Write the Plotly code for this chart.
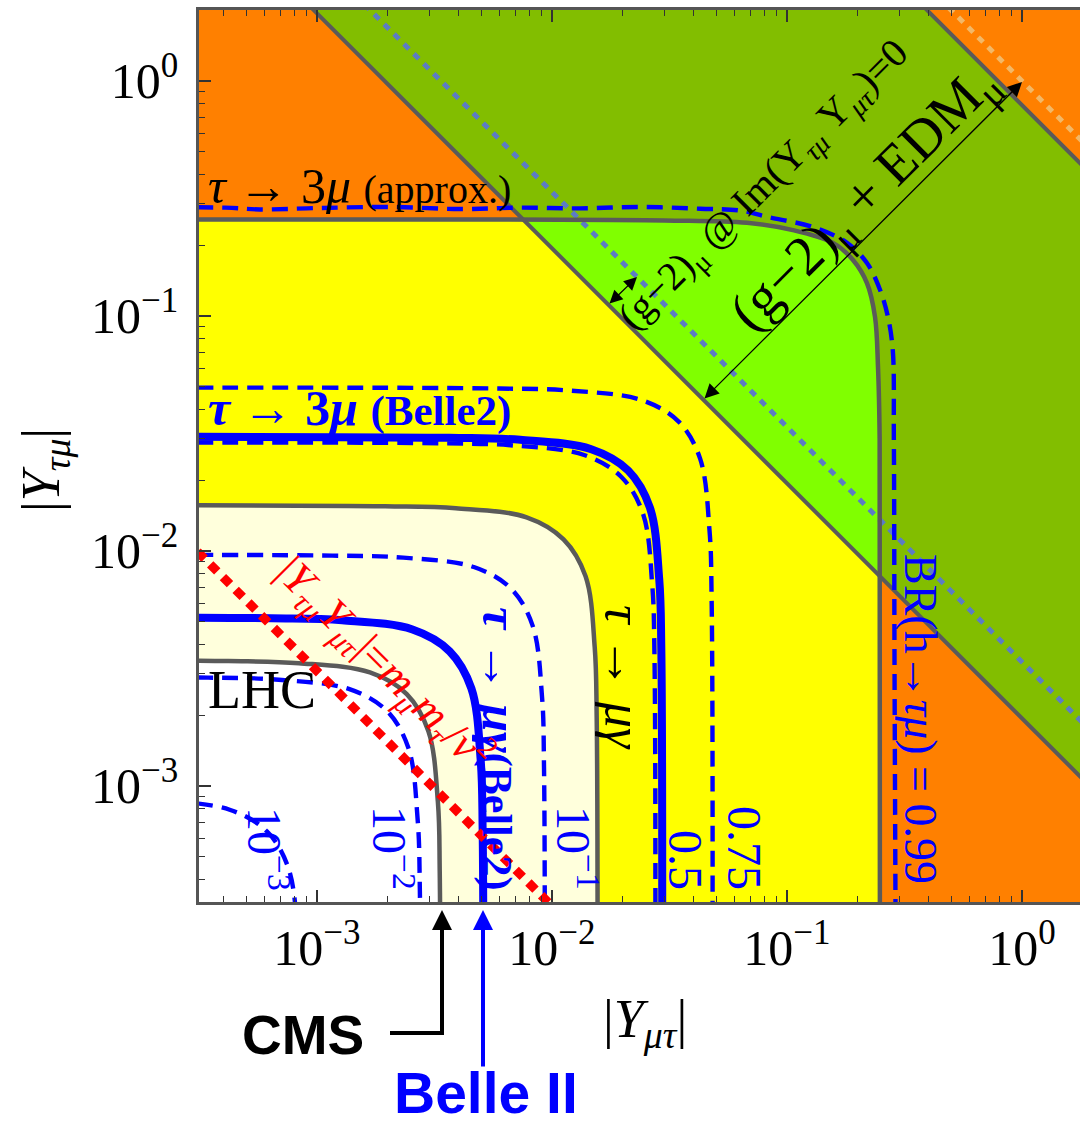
import plotly.graph_objects as go

SERIF = "Liberation Serif"
SANS = "Liberation Sans"

# ---------------------------------------------------------------
# Axis ranges (log10) and ticks
# ---------------------------------------------------------------
X_LOG_RANGE = [-3.502, 0.247]
Y_LOG_RANGE = [-3.494, 0.302]
TICK_VALS = [1e-3, 1e-2, 1e-1, 1.0]
TICK_TEXT = ["10<sup>−3</sup>", "10<sup>−2</sup>", "10<sup>−1</sup>", "10<sup>0</sup>"]
MINOR_VALS = [m * d for d in (1e-4, 1e-3, 1e-2, 1e-1, 1.0) for m in range(2, 10)]

# ---------------------------------------------------------------
# Lines of constant |Y_tau-mu * Y_mu-tau|
# ---------------------------------------------------------------
GM2_EDM_LOW = 1.94e-3     # (g-2)_mu + EDM_mu band, lower edge
GM2_EDM_HIGH = 0.79       # (g-2)_mu + EDM_mu band, upper edge
GM2_IM0_LOW = 3.37e-3     # (g-2)_mu @ Im(Y Y)=0, lower edge
GM2_IM0_HIGH = 1.0        # (g-2)_mu @ Im(Y Y)=0, upper edge
NATURALNESS = 3.08e-6     # m_mu m_tau / v^2

# ---------------------------------------------------------------
# Bounds from tau -> 3mu (approx.) and BR(h -> tau mu)
# ---------------------------------------------------------------
TAU3MU_APPROX = 0.255
H_TAUMU_LIMIT = 0.249
outer_x = [1e-5, 0.03, 0.0676, 0.106, 0.157, 0.191, 0.219, 0.237, 0.244, 0.248, 0.249]
outer_y = [0.255, 0.255, 0.249, 0.232, 0.2046, 0.173, 0.138, 0.099, 0.0607, 0.03, 1e-5]

# tau -> mu gamma (current)
mueg_x = [1e-5, 1.95e-3, 3.9e-3, 7.8e-3, 1.12e-2, 1.39e-2, 1.52e-2, 1.55e-2, 1.56e-2]
mueg_y = [1.56e-2, 1.55e-2, 1.52e-2, 1.39e-2, 1.12e-2, 7.8e-3, 3.9e-3, 1.95e-3, 1e-5]

# LHC (CMS h -> tau mu)
lhc_x = [1e-5, 4.19e-4, 8.38e-4, 1.68e-3, 2.41e-3, 2.98e-3, 3.27e-3, 3.33e-3, 3.35e-3]
lhc_y = [3.42e-3, 3.40e-3, 3.33e-3, 3.04e-3, 2.46e-3, 1.71e-3, 8.55e-4, 4.28e-4, 1e-5]

# Belle II projections
b2_mug_x = [1e-5, 6.4e-4, 1.28e-3, 2.55e-3, 3.67e-3, 4.54e-3, 4.97e-3, 5.07e-3, 5.1e-3]
b2_mug_y = [5.2e-3, 5.17e-3, 5.07e-3, 4.63e-3, 3.74e-3, 2.6e-3, 1.3e-3, 6.5e-4, 1e-5]
b2_3mu_x = [1e-5, 3.66e-3, 7.33e-3, 1.47e-2, 2.11e-2, 2.61e-2, 2.86e-2, 2.92e-2, 2.93e-2]
b2_3mu_y = [3.05e-2, 3.03e-2, 2.97e-2, 2.71e-2, 2.2e-2, 1.53e-2, 7.6e-3, 3.8e-3, 1e-5]

# BR(h -> tau mu) contours
br_labels = ["10<sup>−3</sup>", "10<sup>−2</sup>", "10<sup>−1</sup>", "0.5", "0.75"]
br_x = [
    [1e-5, 1.06e-4, 2.13e-4, 4.25e-4, 6.12e-4, 7.57e-4, 8.29e-4, 8.46e-4, 8.5e-4],
    [1e-5, 3.44e-4, 6.88e-4, 1.375e-3, 1.98e-3, 2.45e-3, 2.68e-3, 2.74e-3, 2.75e-3],
    [1e-5, 1.16e-3, 2.33e-3, 4.65e-3, 6.7e-3, 8.28e-3, 9.07e-3, 9.25e-3, 9.3e-3],
    [1e-5, 3.43e-3, 6.85e-3, 1.37e-2, 1.97e-2, 2.44e-2, 2.67e-2, 2.73e-2, 2.74e-2],
    [1e-5, 6.0e-3, 1.2e-2, 2.4e-2, 3.46e-2, 4.27e-2, 4.68e-2, 4.78e-2, 4.8e-2],
]
br_y = [
    [8.9e-4, 8.86e-4, 8.68e-4, 7.92e-4, 6.41e-4, 4.45e-4, 2.23e-4, 1.11e-4, 1e-5],
    [2.9e-3, 2.89e-3, 2.83e-3, 2.58e-3, 2.09e-3, 1.45e-3, 7.25e-4, 3.63e-4, 1e-5],
    [9.6e-3, 9.55e-3, 9.36e-3, 8.54e-3, 6.91e-3, 4.8e-3, 2.4e-3, 1.2e-3, 1e-5],
    [2.88e-2, 2.87e-2, 2.81e-2, 2.56e-2, 2.07e-2, 1.44e-2, 7.2e-3, 3.6e-3, 1e-5],
    [4.93e-2, 4.91e-2, 4.81e-2, 4.39e-2, 3.55e-2, 2.47e-2, 1.23e-2, 6.2e-3, 1e-5],
]
br099_x = [1e-5, 4.07e-4, 5.71e-4, 1.03e-3, 2.05e-3, 4.06e-3, 7.31e-3, 0.01316, 0.0237,
           0.0427, 0.0631, 0.0822, 0.129, 0.180, 0.219, 0.249, 0.269, 0.282, 0.285, 0.287, 0.294]
br099_y = [0.286, 0.289, 0.284, 0.288, 0.291, 0.285, 0.289, 0.287, 0.291,
           0.286, 0.281, 0.264, 0.239, 0.205, 0.168, 0.129, 0.099, 0.0716, 0.03, 0.003, 1e-5]

# ---------------------------------------------------------------
ORANGE = "#FF8000"
DARK_GREEN = "#82BE00"
LIGHT_GREEN = "#80FF00"
YELLOW = "#FFFF00"
PALE_YELLOW = "#FFFFDC"
GRAY = "#5A5A5A"
BLUE = "#0000FF"
STEEL = "#5C7CC4"
PALE_DOT = "#F2B868"
DASH = "16px,9px"

FAR = 1e-7
XA, XB = 1e-6, 1e2

fig = go.Figure()


def region(xs, ys, color, shape="spline"):
    fig.add_trace(go.Scatter(x=xs, y=ys, mode="lines", fill="toself", fillcolor=color,
                             line=dict(width=0, shape=shape, color=color),
                             hoverinfo="skip", showlegend=False))


def closed(xs, ys):
    return [FAR] + xs + [xs[-1], FAR], [ys[0]] + ys + [FAR, FAR]


def curve(xs, ys, color, width, dash="solid", shape="spline"):
    fig.add_trace(go.Scatter(x=xs, y=ys, mode="lines",
                             line=dict(color=color, width=width, dash=dash, shape=shape),
                             hoverinfo="skip", showlegend=False))


def diagonal(c, color, width, dash="solid"):
    curve([XA, XB], [c / XA, c / XB], color, width, dash, shape="linear")


# (g-2) + EDM band
region([XA, XB, XB, XA],
       [GM2_EDM_LOW / XA, GM2_EDM_LOW / XB, GM2_EDM_HIGH / XB, GM2_EDM_HIGH / XA],
       DARK_GREEN, shape="linear")
# allowed by tau -> 3mu and h -> tau mu
region(*closed(outer_x, outer_y), LIGHT_GREEN)
region([FAR, FAR, GM2_EDM_LOW / TAU3MU_APPROX, H_TAUMU_LIMIT, H_TAUMU_LIMIT],
       [FAR, TAU3MU_APPROX, TAU3MU_APPROX, GM2_EDM_LOW / H_TAUMU_LIMIT, FAR],
       YELLOW, shape="linear")
region(*closed(mueg_x, mueg_y), PALE_YELLOW)
region(*closed(lhc_x, lhc_y), "white")

# boundary lines
diagonal(GM2_IM0_LOW, STEEL, 5, "7px,7px")
diagonal(GM2_IM0_HIGH, PALE_DOT, 5, "7px,7px")
diagonal(GM2_EDM_LOW, GRAY, 4)
diagonal(GM2_EDM_HIGH, GRAY, 4)
curve(outer_x, outer_y, GRAY, 4.5)
curve(mueg_x, mueg_y, GRAY, 4.5)
curve(lhc_x, lhc_y, GRAY, 4.5)

for xs, ys in zip(br_x, br_y):
    curve(xs, ys, BLUE, 4.4, DASH)
curve(br099_x, br099_y, BLUE, 4.4, DASH)

curve(b2_mug_x, b2_mug_y, BLUE, 8)
curve(b2_3mu_x, b2_3mu_y, BLUE, 8)

diagonal(NATURALNESS, "#FF0000", 9, "10px,8px")

# ---------------------------------------------------------------
# Layout: plot box occupies pixels x 199..1080, y 10..902
# ---------------------------------------------------------------
L, T, R, B = 199, 10, 1080, 902
W, H = R - L, B - T


def px(x):
    return (x - L) / W


def py(y):
    return (B - y) / H


def label(x, y, text, size, color="black", angle=0, family=SERIF, xanchor="center"):
    fig.add_annotation(x=px(x), y=py(y), xref="paper", yref="paper", text=text,
                       showarrow=False, textangle=angle, xanchor=xanchor, yanchor="middle",
                       font=dict(family=family, size=size, color=color))


def arrow(head, tail, color, width, size, both=False):
    fig.add_annotation(x=px(head[0]), y=py(head[1]), xref="paper", yref="paper",
                       ax=tail[0] - head[0], ay=tail[1] - head[1],
                       text="", showarrow=True, arrowhead=2, arrowsize=size,
                       arrowwidth=width, arrowcolor=color, standoff=0, startstandoff=0,
                       arrowside="end+start" if both else "end",
                       startarrowhead=2, startarrowsize=size)


label(206, 186, "<i>τ</i> → 3<i>μ</i> <span style='font-size:40px'>(approx.)</span>", 50,
      xanchor="left")
label(206, 408, "<b><i>τ</i> → 3<i>μ</i> <span style='font-size:43px'>(Belle2)</span></b>", 50,
      color=BLUE, xanchor="left")
label(206, 690, "LHC", 54, xanchor="left")
label(624, 677, "<i>τ</i> → <i>μγ</i>", 52, angle=90)
label(500, 748, "<b><i>τ</i> → <i>μγ</i><span style='font-size:42px'>(Belle2)</span></b>", 50,
      color=BLUE, angle=90)
label(384, 664,
      "|<i>Y</i><sub><i>τμ</i></sub><i>Y</i><sub><i>μτ</i></sub>|=<i>m</i><sub><i>μ</i></sub>"
      "<i>m</i><sub><i>τ</i></sub>/<i>v</i><sup>2</sup>", 44, color="#FF0000", angle=45)
label(764, 186, "(g−2)<sub>μ</sub> @ Im(Y<sub><i>τμ</i></sub> Y<sub><i>μτ</i></sub>)=0", 40,
      angle=-45)
label(866, 200, "(g−2)<sub>μ</sub> + EDM<sub>μ</sub>", 56, angle=-45)

for (lx, ly), txt in zip([(268, 849), (393, 848), (577, 848), (686, 860), (745, 848)], br_labels):
    label(lx, ly, txt, 48, color=BLUE, angle=90)
label(921, 719, "BR(h→<i>τμ</i>) = 0.99", 46, color=BLUE, angle=90)

label(45, 470, "|<i>Y</i><sub><i>τμ</i></sub>|", 54, angle=-90)
label(645, 1022, "|<i>Y</i><sub><i>μτ</i></sub>|", 54)
label(303, 1035, "<b>CMS</b>", 55, family=SANS)
label(486, 1093, "<b>Belle II</b>", 57, color=BLUE, family=SANS)

arrow((1022, 82), (703, 400), "black", 1.3, 2.2, both=True)
arrow((637, 277), (608, 305), "black", 1.3, 2.0, both=True)
arrow((442, 910), (442, 1035), "black", 4, 1.0)
arrow((483, 910), (483, 1068), BLUE, 4, 1.0)
fig.add_shape(type="line", xref="paper", yref="paper", x0=px(390), x1=px(444),
              y0=py(1033), y1=py(1033), line=dict(color="black", width=4))

axis_common = dict(type="log", showgrid=False, zeroline=False, showline=True,
                   linecolor="#555555", linewidth=2.5, ticks="inside", ticklen=12,
                   tickwidth=1.5, tickcolor="#333333", tickmode="array",
                   tickvals=TICK_VALS, ticktext=TICK_TEXT,
                   tickfont=dict(family=SERIF, size=50, color="black"),
                   minor=dict(tickmode="array", tickvals=MINOR_VALS, ticks="inside",
                              ticklen=6, tickwidth=1, tickcolor="#333333"))

fig.update_xaxes(range=X_LOG_RANGE, mirror="ticks", ticklabelstandoff=0, **axis_common)
fig.update_yaxes(range=Y_LOG_RANGE, mirror=False, ticklabelstandoff=8, **axis_common)

fig.update_layout(width=1080, height=1124, autosize=False,
                  margin=dict(l=L, r=1080 - R, t=T, b=1124 - B),
                  plot_bgcolor=ORANGE, paper_bgcolor="white", showlegend=False)

fig.write_html("out.html")
